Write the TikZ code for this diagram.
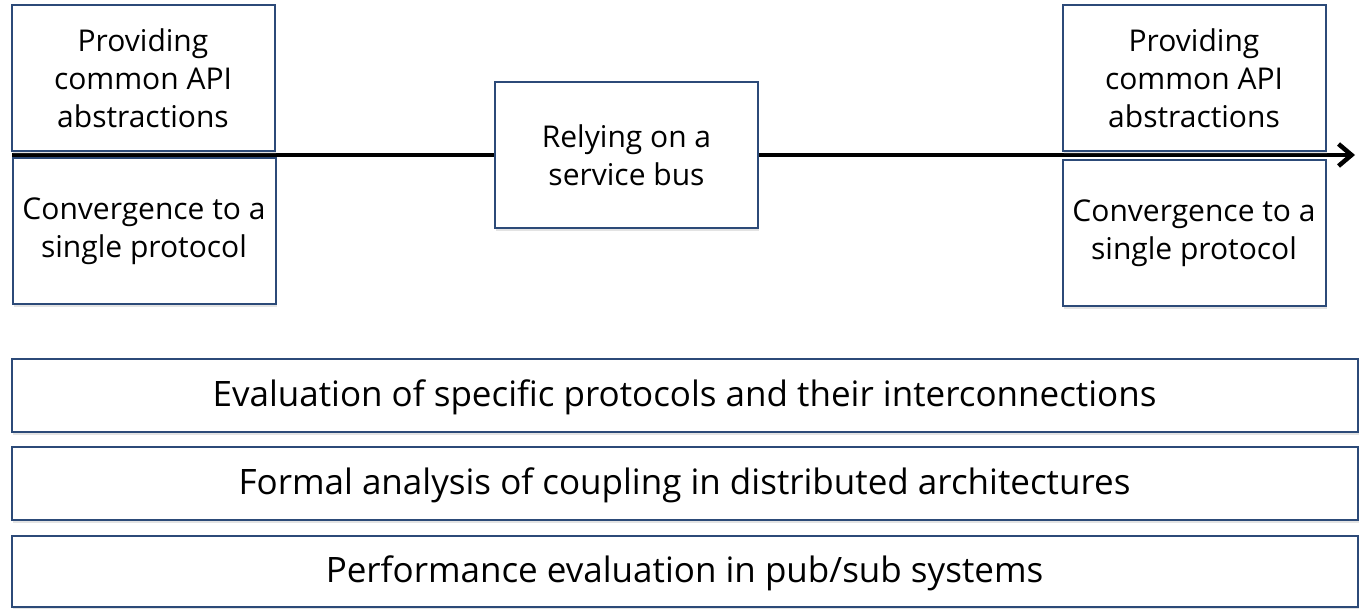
\documentclass[tikz,border=0pt]{standalone}
\usepackage{fontspec}
\setmainfont{Open Sans}
\usetikzlibrary{arrows.meta,shadows}
\definecolor{boxblue}{RGB}{44,74,120}
\tikzset{
  topic/.style={draw=boxblue,line width=2pt,fill=white,align=center,
    inner sep=0pt,font=\fontsize{30}{38}\selectfont,
    drop shadow={shadow xshift=1pt,shadow yshift=-3pt,opacity=0.22}},
  smallbox/.style={topic,minimum width=263pt,minimum height=146pt},
  widebox/.style={topic,minimum width=1346pt,minimum height=73pt,
    font=\fontsize{35}{42}\selectfont,text depth=4pt}
}
\begin{document}
\begin{tikzpicture}[x=1pt,y=-1pt]
\useasboundingbox (0,0) rectangle (1359,609);
\coordinate (start) at (12,155);
\coordinate (stop) at (1355,155);
\draw[line width=4.5pt,-{Straight Barb[length=13pt,width=22pt,line width=4.5pt]}] (start) -- (stop);
% timeline boxes
\node[smallbox] (provL) at (143,78.5) {Providing\\common API\\abstractions};
\node[smallbox] (convL) at (144,231.5) {Convergence to a\\single protocol};
\node[smallbox] (bus) at (626.5,155) {Relying on a\\service bus};
\node[smallbox] (provR) at (1194,78.5) {Providing\\common API\\abstractions};
\node[smallbox] (convR) at (1194,233) {Convergence to a\\single protocol};
% research topics
\node[widebox] (eval) at (684.5,395) {Evaluation of specific protocols and their interconnections};
\node[widebox] (formal) at (684.5,483.5) {Formal analysis of coupling in distributed architectures};
\node[widebox,minimum height=71pt] (perf) at (684.5,571.5) {Performance evaluation in pub/sub systems};
\end{tikzpicture}
\end{document}
